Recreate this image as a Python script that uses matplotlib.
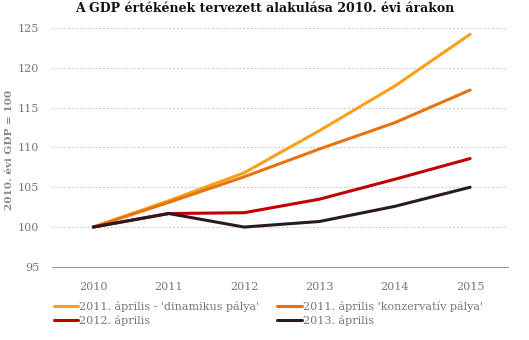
import matplotlib
matplotlib.use("Agg")
import matplotlib.pyplot as plt

years = [2010, 2011, 2012, 2013, 2014, 2015]
dinamikus = [100, 103.3, 106.8, 112.1, 117.7, 124.2]
konzervativ = [100, 103.1, 106.3, 109.8, 113.1, 117.2]
apr_2012 = [100, 101.7, 101.8, 103.5, 106.0, 108.6]
apr_2013 = [100, 101.7, 100.0, 100.7, 102.6, 105.0]

labels = ["2011. április - 'dinamikus pálya'", "2011. április 'konzervatív pálya'",
          "2012. április", "2013. április"]
colors = ["#F9A11B", "#E8730E", "#C00000", "#2A1B20"]

plt.rcParams['font.family'] = ['DejaVu Serif']

fig = plt.figure(figsize=(5.29, 3.40), dpi=100)
ax = fig.add_axes([0.098, 0.215, 0.862, 0.703])

lines = []
for vals, lab, c in zip([dinamikus, konzervativ, apr_2012, apr_2013], labels, colors):
    ln, = ax.plot(years, vals, color=c, lw=2.2, label=lab, solid_capstyle="round")
    lines.append(ln)

ax.set_ylim(95, 125)
ax.set_xlim(2009.45, 2015.5)
ax.set_yticks([95, 100, 105, 110, 115, 120, 125])
ax.set_xticks(years)
ax.grid(axis="y", color="#c8c8c8", ls=(0, (2, 2)), lw=0.7)
ax.set_axisbelow(True)
for s in ["top", "right", "left"]:
    ax.spines[s].set_visible(False)
ax.spines["bottom"].set_color("#999999")
ax.tick_params(length=0, labelsize=8, colors="#777777")
ax.tick_params(axis="x", pad=11)
ax.tick_params(axis="y", pad=9)
fig.text(0.018, 0.56, "2010. évi GDP = 100", rotation=90, fontsize=7.5, color="#888888",
         fontweight="bold", ha="center", va="center")

fig.suptitle("A GDP értékének tervezett alakulása 2010. évi árakon", fontsize=9,
             fontweight="bold", x=0.5, y=0.995, color="#111111")

order = [0, 2, 1, 3]
ax.legend([lines[i] for i in order], [labels[i] for i in order],
          loc="upper left", bbox_to_anchor=(-0.018, -0.1), ncol=2, frameon=False,
          fontsize=8, handlelength=2.2, handletextpad=0.1, columnspacing=1.6,
          labelspacing=0.3, labelcolor="#777777")

fig.savefig("out.png", dpi=100)
